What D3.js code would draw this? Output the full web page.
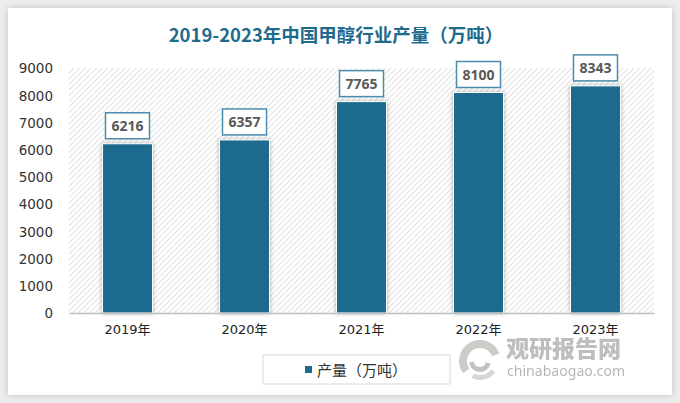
<!DOCTYPE html>
<html><head><meta charset="utf-8">
<script src="https://cdn.jsdelivr.net/npm/d3@7/dist/d3.min.js"></script>
<style>html,body{margin:0;padding:0;background:#ececec;}svg{display:block;}</style>
</head><body>
<svg id="c" width="680" height="403"></svg>
<script>
const categories = ["2019年","2020年","2021年","2022年","2023年"];
const values = [6216, 6357, 7765, 8100, 8343];
const yTicks = [0,1000,2000,3000,4000,5000,6000,7000,8000,9000];
const title = "2019-2023年中国甲醇行业产量（万吨）";
const seriesName = "产量（万吨）";

const svg = d3.select("#c");
const defs = svg.append("defs");
const sh = defs.append("filter").attr("id","cardShadow").attr("x","-5%").attr("y","-5%").attr("width","110%").attr("height","110%");
sh.append("feDropShadow").attr("dx",0).attr("dy",0).attr("stdDeviation",3).attr("flood-color","#000").attr("flood-opacity",0.18);
const bs = defs.append("filter").attr("id","barShadow").attr("x","-20%").attr("y","-10%").attr("width","140%").attr("height","120%");
bs.append("feDropShadow").attr("dx",0).attr("dy",0).attr("stdDeviation",2).attr("flood-color","#000").attr("flood-opacity",0.3);
const pat = defs.append("pattern").attr("id","hatch").attr("patternUnits","userSpaceOnUse")
  .attr("width",4).attr("height",4).attr("patternTransform","rotate(45)");
pat.append("rect").attr("width",4).attr("height",4).attr("fill","#ffffff");
pat.append("line").attr("x1",0).attr("y1",0).attr("x2",0).attr("y2",4).attr("stroke","#d2d2d2").attr("stroke-width",1.3);

// card
svg.append("rect").attr("x",8).attr("y",8).attr("width",664).attr("height",387).attr("fill","#fff").attr("filter","url(#cardShadow)");

const plot = {l:69, r:654, t:68, b:313};
const x = d3.scaleBand().domain(categories).range([plot.l, plot.r]).paddingInner(0.573).paddingOuter(0.2865);
const y = d3.scaleLinear().domain([0,9000]).range([plot.b, plot.t]);

// hatched plot background
svg.append("rect").attr("x",plot.l).attr("y",plot.t).attr("width",plot.r-plot.l).attr("height",plot.b-plot.t).attr("fill","url(#hatch)");

// title
svg.append("text").attr("x",336).attr("y",42).attr("text-anchor","middle")
  .attr("font-family","'Noto Sans CJK SC', sans-serif").attr("font-weight","bold").attr("font-size",18.5)
  .attr("fill","#1f6b8e").text(title);

// y axis
const yAxis = d3.axisLeft(y).tickValues(yTicks).tickSize(0).tickPadding(0).tickFormat(d3.format("d"));
const yg = svg.append("g").attr("transform",`translate(53,0)`).call(yAxis);
yg.select(".domain").remove();
yg.selectAll("text").attr("font-family","'DejaVu Sans', sans-serif").attr("font-size",13.5).attr("fill","#333").attr("dy","0.36em");

// bars
svg.append("g").selectAll("rect").data(values).join("rect")
  .attr("x",(d,i)=>x(categories[i])).attr("width",x.bandwidth())
  .attr("y",d=>y(d)).attr("height",d=>plot.b-y(d))
  .attr("fill","#1c6a8e").attr("stroke","#fff").attr("stroke-width",1).attr("filter","url(#barShadow)");

// watermark
const wm = svg.append("g").attr("opacity",0.85);
const lg = wm.append("g").attr("transform","translate(480,361)");
lg.append("path").attr("d",d3.arc()({innerRadius:13,outerRadius:21,startAngle:-2.2,endAngle:1.2})).attr("fill","#c4c4c0");
lg.append("path").attr("d",d3.arc()({innerRadius:6,outerRadius:11,startAngle:1.8,endAngle:4.6})).attr("fill","#b8b8b4");
lg.append("path").attr("d",d3.arc()({innerRadius:14,outerRadius:19,startAngle:2.2,endAngle:3.6})).attr("fill","#d0d0cc");
wm.append("text").attr("x",506).attr("y",357).attr("font-family","'Noto Sans CJK SC', sans-serif").attr("font-weight","900")
  .attr("font-size",23).attr("fill","#b3b3b3").text("观研报告网");
wm.append("text").attr("x",507).attr("y",376).attr("font-family","'Noto Sans', sans-serif")
  .attr("font-size",14).attr("fill","#aaaaaa").attr("textLength",118).text("chinabaogao.com");

// x axis
const xAxis = d3.axisBottom(x).tickSize(0).tickPadding(12);
const xg = svg.append("g").attr("transform",`translate(0,${plot.b})`).call(xAxis);
xg.select(".domain").attr("stroke","#bfbfbf").attr("stroke-width",1.5);
xg.selectAll("text").attr("font-family","'DejaVu Sans','Noto Sans CJK SC', sans-serif").attr("font-size",13).attr("fill","#222");

// data labels
const lbl = svg.append("g").selectAll("g").data(values).join("g")
  .attr("transform",(d,i)=>`translate(${x(categories[i])+x.bandwidth()/2},${y(d)-5})`);
lbl.append("rect").attr("x",-22).attr("y",-26).attr("width",44).attr("height",26)
  .attr("fill","#fff").attr("stroke","#4a8cab").attr("stroke-width",1.5);
lbl.append("text").attr("y",-8).attr("text-anchor","middle")
  .attr("font-family","'Open Sans', sans-serif").attr("font-weight","bold").attr("font-size",14)
  .attr("fill","#595959").text(d=>d);

// legend
const leg = svg.append("g");
leg.append("rect").attr("x",263).attr("y",355).attr("width",187).attr("height",29).attr("fill","#fff").attr("stroke","#d9d9d9").attr("stroke-width",1);
leg.append("rect").attr("x",305).attr("y",366).attr("width",7).attr("height",7).attr("fill","#1c6a8e");
leg.append("text").attr("x",317).attr("y",375.5).attr("font-family","'Noto Sans CJK SC', sans-serif")
  .attr("font-size",15).attr("fill","#333").text(seriesName);
</script>
</body></html>
